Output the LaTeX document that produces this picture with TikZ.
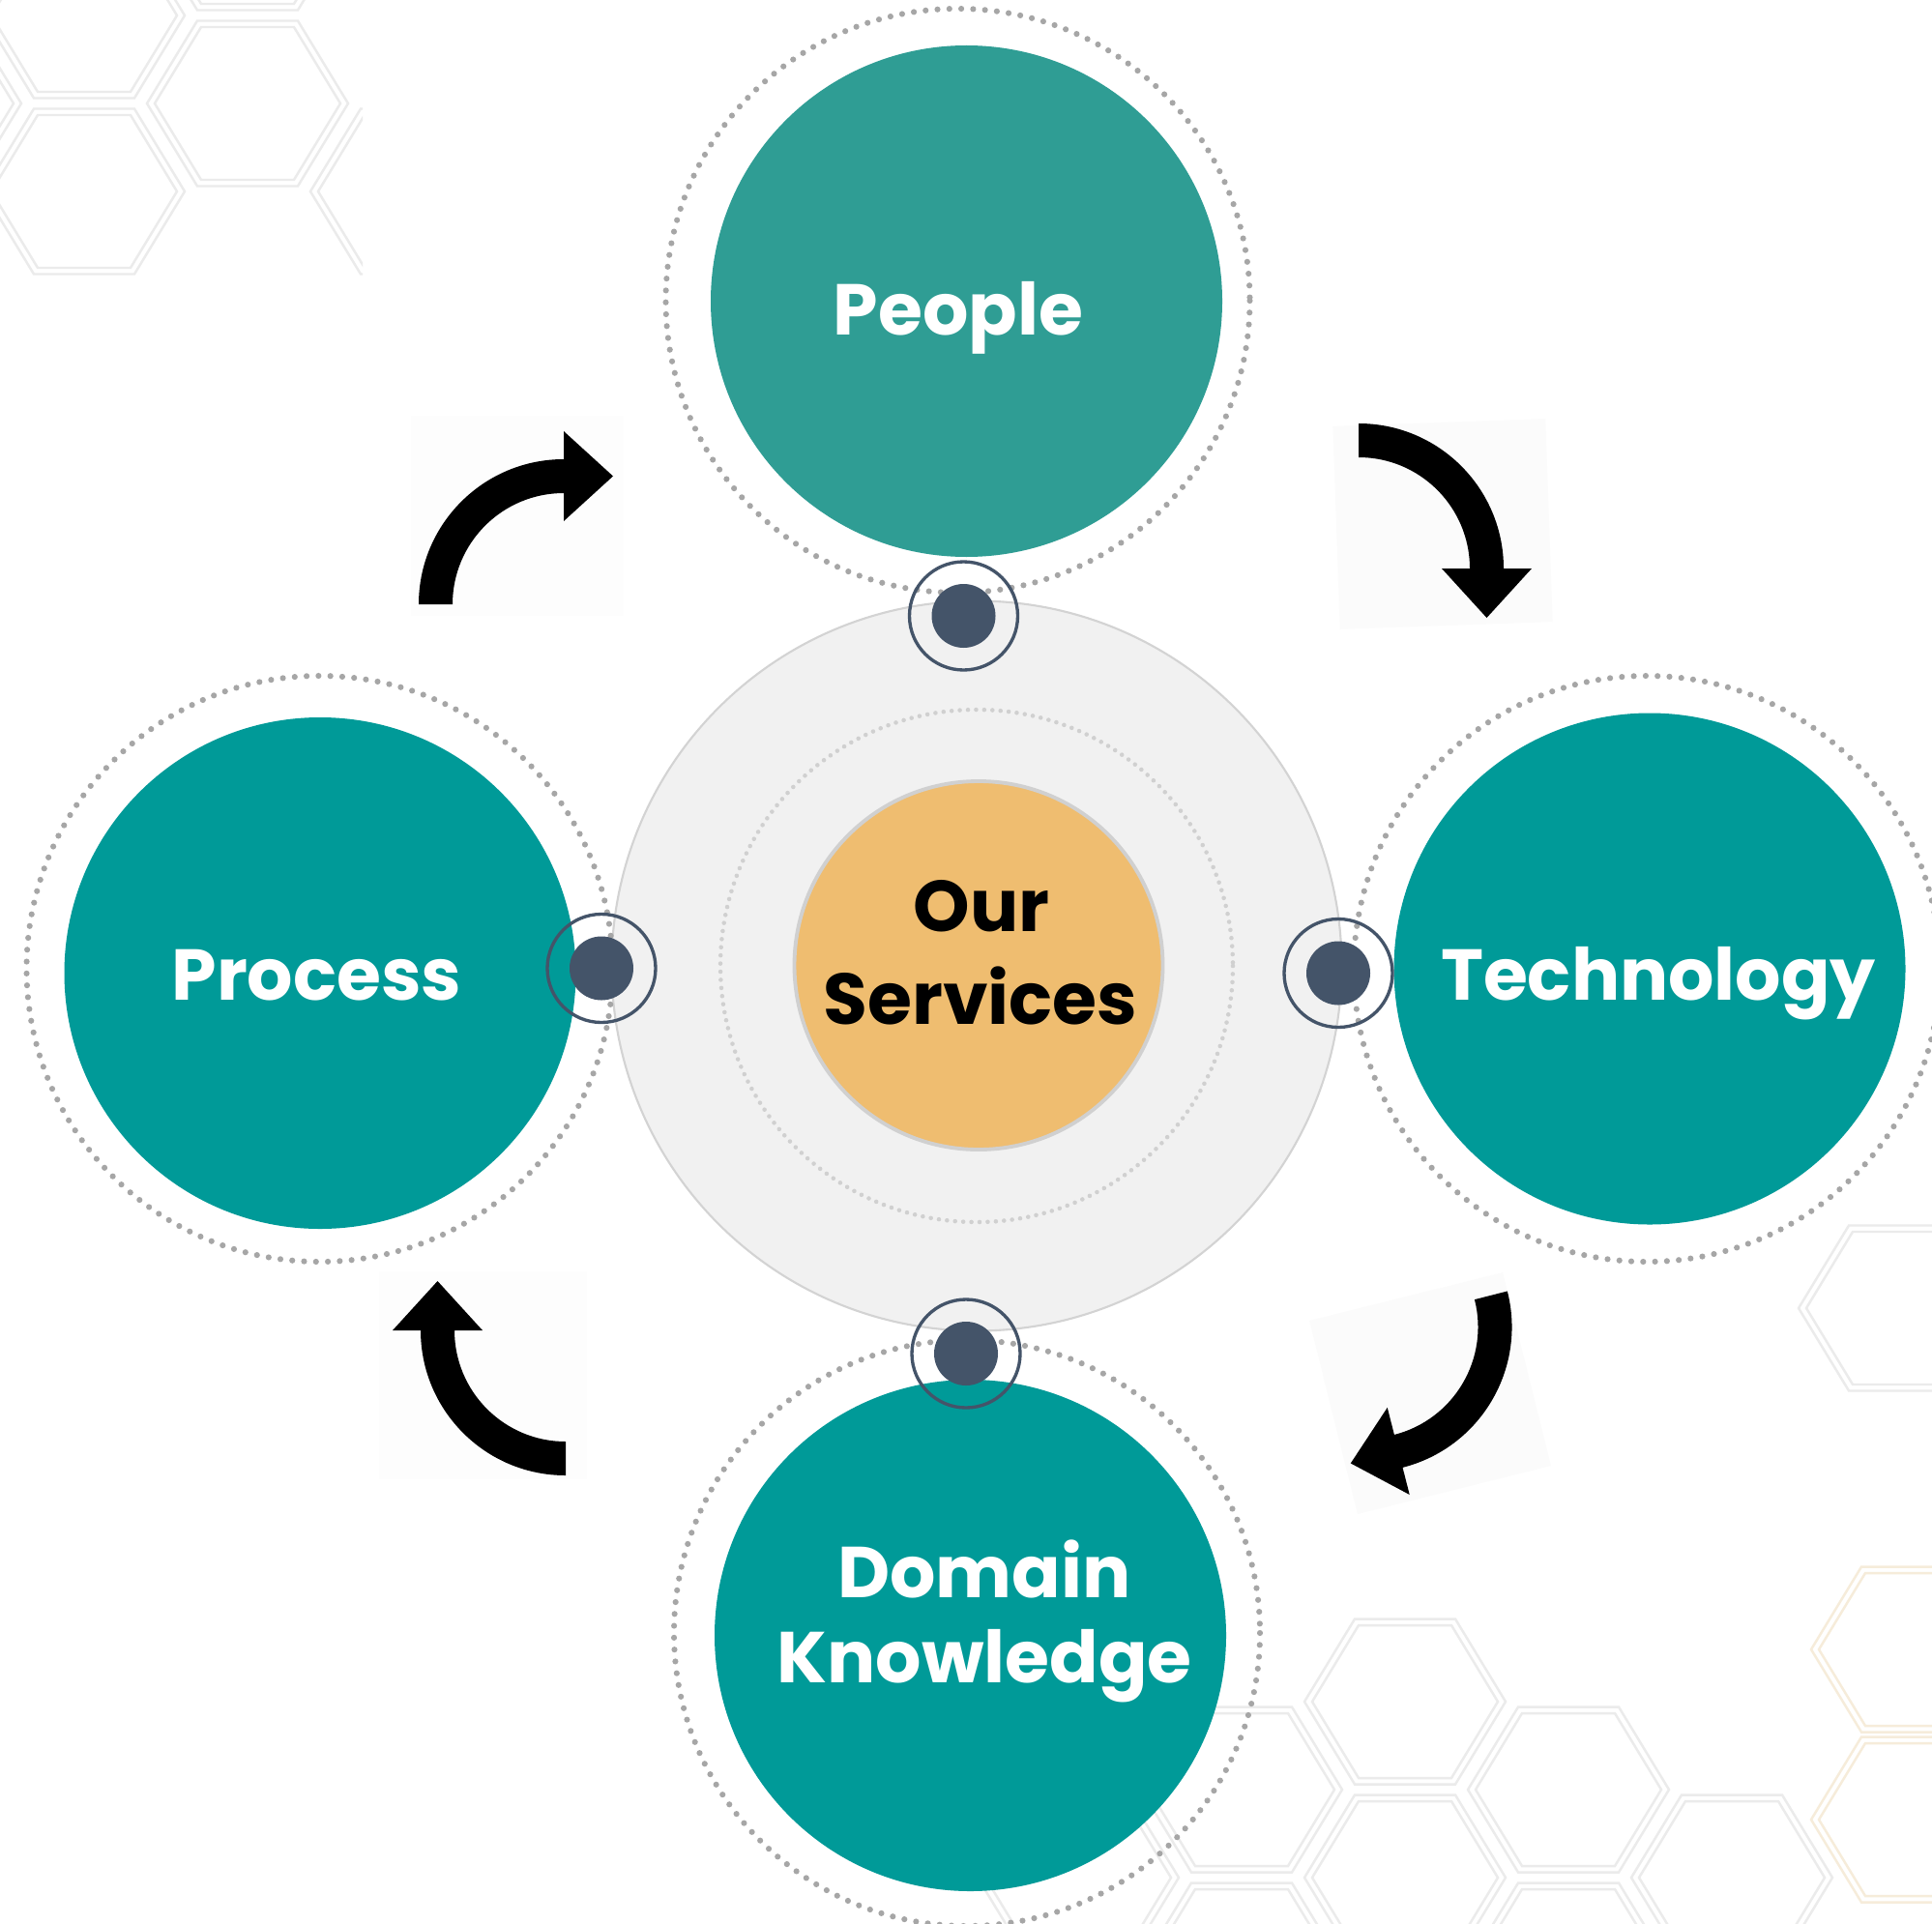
\documentclass[tikz,border=0pt]{standalone}
\usepackage{fontspec}
\setmainfont{Poppins}
\usetikzlibrary{calc}
\definecolor{tealA}{HTML}{2F9D94}
\definecolor{tealB}{HTML}{009A98}
\definecolor{slate}{HTML}{445469}
\definecolor{orangeC}{HTML}{EFBD70}
\definecolor{ringgrey}{HTML}{A6A6A6}
\definecolor{innergrey}{HTML}{D0D0D0}
\definecolor{diskgrey}{HTML}{F1F1F1}
\definecolor{diskedge}{HTML}{D3D3D3}
\definecolor{hexgrey}{HTML}{EBEBEB}
\definecolor{hexgold}{HTML}{F6ECDA}
\definecolor{bgfaint}{HTML}{FBFBFB}
\definecolor{bgfainter}{HTML}{FDFDFD}
\newcommand\hexcell[3]{%
  \draw[#3, line width=0.7pt] (#1,#2) ++(1.04,0) -- ++(-0.52,0.855) -- ++(-1.04,0) -- ++(-0.52,-0.855) -- ++(0.52,-0.855) -- ++(1.04,0) -- cycle;
  \draw[#3, line width=0.7pt] (#1,#2) ++(0.96,0) -- ++(-0.48,0.79) -- ++(-0.96,0) -- ++(-0.48,-0.79) -- ++(0.48,-0.79) -- ++(0.96,0) -- cycle;
}
\newcommand\bentarrow[5]{%
  \coordinate (#1) at (#2,#3);
  \fill[black] ($(#1)+(#4:1.50)$) arc[start angle=#4, end angle=#5, radius=1.50]
    -- ($(#1)+(#5:1.79)$) -- ($(#1)+(#5:1.325)+(#5+90:0.51)$) -- ($(#1)+(#5:0.86)$)
    -- ($(#1)+(#5:1.15)$) arc[start angle=#5, end angle=#4, radius=1.15] -- cycle;
}
\tikzset{
  tealdisk/.style={circle, inner sep=0pt, minimum size=5.29cm},
  dotring/.style={draw=ringgrey, line width=1.75pt, dash pattern=on 0pt off 3.5pt, line cap=round},
  innerring/.style={draw=innergrey, line width=1.3pt, dash pattern=on 0pt off 2.4pt, line cap=round},
  hubring/.style={circle, draw=slate, line width=0.95pt, inner sep=0pt, minimum size=1.12cm},
  hubdot/.style={circle, fill=slate, inner sep=0pt, minimum size=0.66cm},
  lbl/.style={font=\bfseries\fontsize{21.2}{25}\selectfont, text=white, inner sep=0pt, anchor=base},
  darklbl/.style={lbl, text=black}
}
\begin{document}
\begin{tikzpicture}[yscale=-1]
\useasboundingbox (0,0) rectangle (19.98,19.89);
\fill[white] (0,0) rectangle (19.98,19.89);

% background honeycomb, top left
\begin{scope}
  \clip (0,0) rectangle (3.75,2.9);
  \hexcell{0.87}{1.98}{hexgrey}
  \hexcell{0.87}{0.16}{hexgrey}
  \hexcell{2.56}{1.07}{hexgrey}
  \hexcell{2.56}{-0.75}{hexgrey}
  \hexcell{4.25}{1.98}{hexgrey}
  \hexcell{-0.82}{1.07}{hexgrey}
\end{scope}
% background honeycomb, bottom right
\hexcell{14.53}{17.60}{hexgrey}
\hexcell{16.22}{18.51}{hexgrey}
\hexcell{12.84}{18.51}{hexgrey}
\hexcell{14.53}{19.42}{hexgrey}
\hexcell{17.91}{19.42}{hexgrey}
\hexcell{11.15}{19.42}{hexgrey}
\hexcell{12.84}{20.33}{hexgrey}
\hexcell{16.22}{20.33}{hexgrey}
\hexcell{19.64}{13.53}{hexgrey}
\hexcell{19.77}{17.06}{hexgold}
\hexcell{19.77}{18.82}{hexgold}

% faint squares behind the arrows
\fill[bgfainter] (4.25,4.30) rectangle (6.45,6.37);
\fill[bgfaint, rotate around={-2:(14.92,5.42)}] (13.82,4.37) rectangle (16.02,6.47);
\fill[bgfaint, rotate around={-14:(14.79,14.41)}] (13.76,13.38) rectangle (15.82,15.44);
\fill[bgfainter] (3.92,13.15) rectangle (6.07,15.30);

% curved arrows
\bentarrow{arrTL}{5.83}{6.25}{180}{270}
\bentarrow{arrTR}{14.05}{5.88}{-90}{0}
\bentarrow{arrBR}{14.135}{13.725}{-14.3}{75.7}
\bentarrow{arrBL}{5.85}{13.76}{90}{180}

% centre
\node[circle, fill=diskgrey, draw=diskedge, line width=0.6pt, inner sep=0pt, minimum size=7.55cm] (hub) at (10.10,9.99) {};
\draw[innerring] (10.10,9.99) circle[radius=2.65];
\node[circle, fill=orangeC, draw=innergrey, line width=1.1pt, inner sep=0pt, minimum size=3.81cm] (core) at (10.12,9.985) {};
\node[darklbl] (coreT1) at (10.15,9.63) {Our};
\node[darklbl] (coreT2) at (10.14,10.59) {Services};

% outer dotted rings
\draw[dotring] (9.905,3.11) circle[radius=3.02];
\draw[dotring] (3.305,10.02) circle[radius=3.03];
\draw[dotring] (17.03,10.02) circle[radius=3.03];
\draw[dotring] (10.00,16.89) circle[radius=3.03];

% satellites
\node[tealdisk, fill=tealA] (people) at (9.995,3.115) {};
\node[tealdisk, fill=tealB] (process) at (3.31,10.065) {};
\node[tealdisk, fill=tealB] (tech) at (17.06,10.02) {};
\node[tealdisk, fill=tealB] (domain) at (10.035,16.915) {};
\node[lbl] (peopleT) at (9.91,3.466) {People};
\node[lbl] (processT) at (3.275,10.346) {Process};
\node[lbl] (techT) at (17.15,10.346) {Technology};
\node[lbl] (domainT1) at (10.18,16.526) {Domain};
\node[lbl] (domainT2) at (10.18,17.406) {Knowledge};

% hub connectors
\node[hubring] (cTop) at (9.965,6.37) {};
\node[hubdot] (cTopDot) at (cTop) {};
\node[hubring] (cLeft) at (6.22,10.015) {};
\node[hubdot] (cLeftDot) at (cLeft) {};
\node[hubring] (cRight) at (13.84,10.065) {};
\node[hubdot] (cRightDot) at (cRight) {};
\node[hubring] (cBottom) at (9.99,14.00) {};
\node[hubdot] (cBottomDot) at (cBottom) {};
\end{tikzpicture}
\end{document}
